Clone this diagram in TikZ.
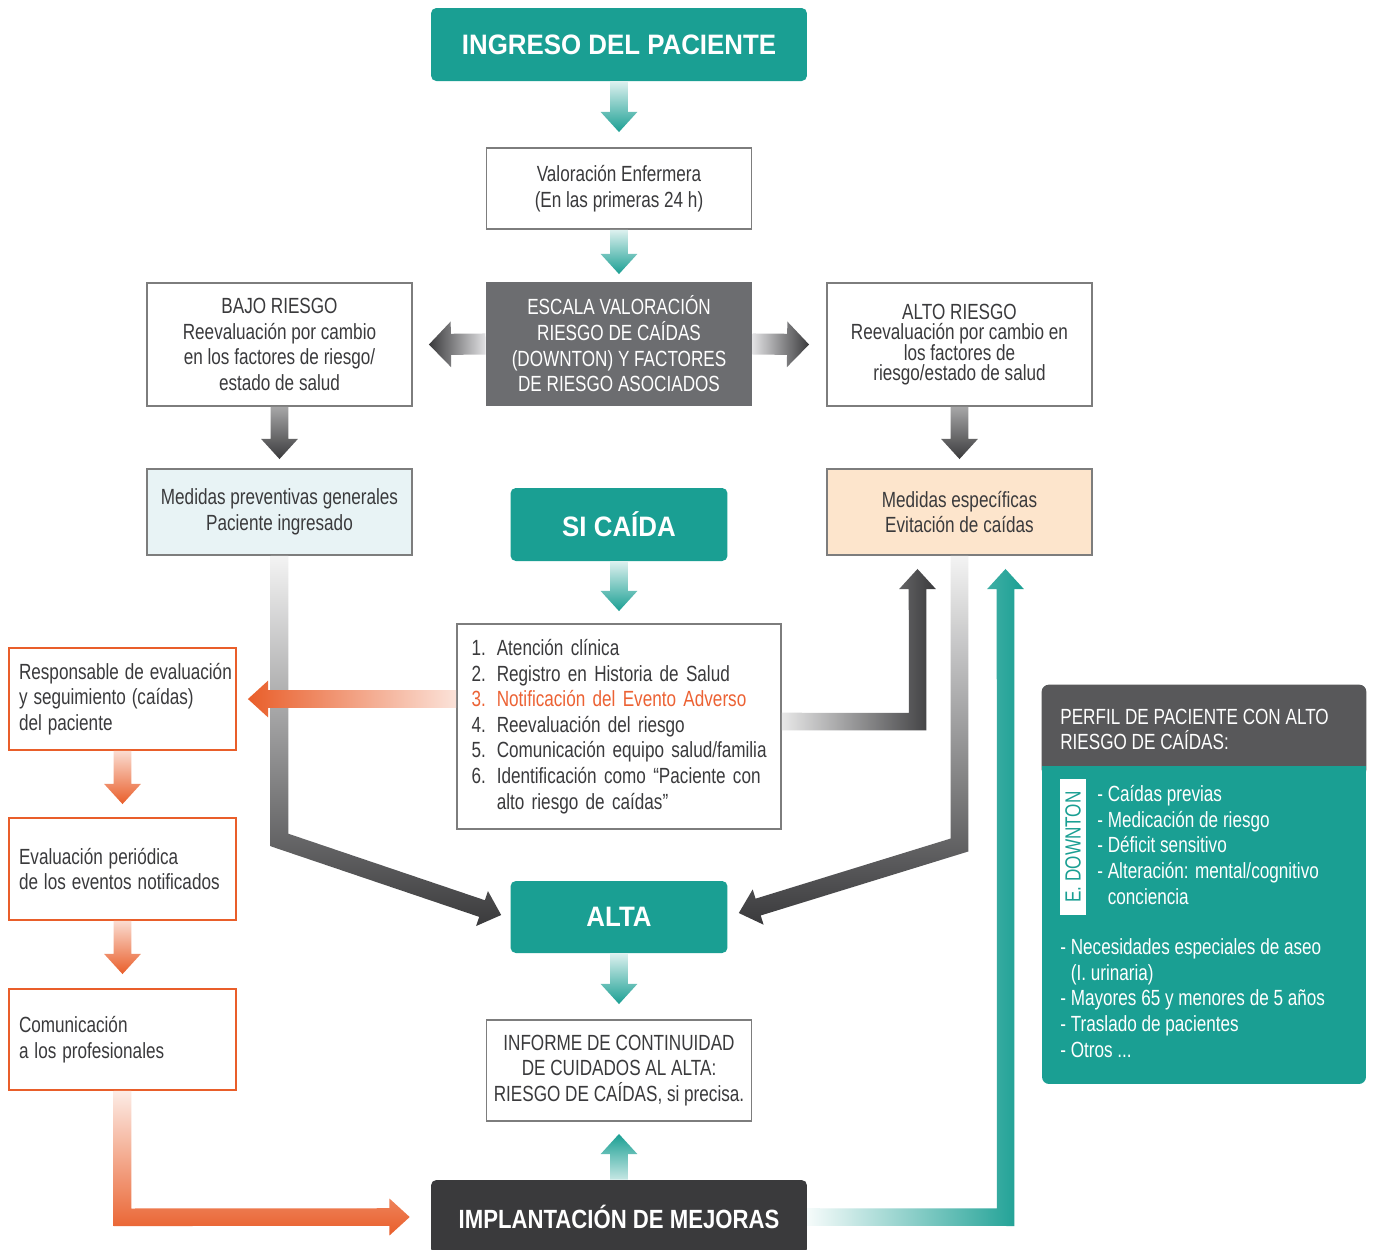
\documentclass[tikz,border=0pt]{standalone}
\usepackage{fontspec}
\setmainfont{Liberation Sans}[FakeStretch=0.78]
\newfontfamily\titulo{Liberation Sans}[FakeStretch=0.92]
\newfontfamily\tituloestrecho{Liberation Sans}[FakeStretch=0.84]
\usetikzlibrary{calc}

\definecolor{verde}{RGB}{26,159,147}
\definecolor{grisoscuro}{RGB}{58,58,60}
\definecolor{grisclaro}{RGB}{226,226,228}
\definecolor{grisescala}{RGB}{108,109,112}
\definecolor{cabecera}{RGB}{88,88,90}
\definecolor{mejoras}{RGB}{58,58,60}
\definecolor{naranja}{RGB}{233,94,42}
\definecolor{rojo}{RGB}{236,98,52}
\definecolor{celeste}{RGB}{232,243,245}
\definecolor{melocoton}{RGB}{253,229,204}
\definecolor{borde}{RGB}{125,125,125}
\definecolor{texto}{RGB}{58,58,60}

\newcommand{\cuerpo}{\fontsize{12.5}{14.6}\selectfont}
\newcommand{\anchoflecha}{5pt}
\newcommand{\cabezaflecha}{10.5pt}
\newcommand{\largoflecha}{11.5pt}

% flecha recta con degradado: opciones, origen, punta
\newcommand{\flecha}[3]{%
  \path ($(#3)!\largoflecha!(#2)$) coordinate (fb);
  \shade[#1] ($(#2)!\anchoflecha!90:(#3)$) -- ($(fb)!\anchoflecha!90:(#3)$)
    -- ($(fb)!\cabezaflecha!90:(#3)$) -- (#3) -- ($(fb)!\cabezaflecha!-90:(#3)$)
    -- ($(fb)!\anchoflecha!-90:(#3)$) -- ($(#2)!\anchoflecha!-90:(#3)$) -- cycle;}

% flecha con codo: opciones, origen, codo, punta
\newcommand{\flechacodo}[4]{%
  \path ($(#4)!\largoflecha!(#3)$) coordinate (fb);
  \path ($(#2)!\anchoflecha!90:(#3)$) coordinate (i1) ($(#3)!\anchoflecha!-90:(#2)$) coordinate (i2)
    ($(#3)!\anchoflecha!90:(#4)$) coordinate (i3) ($(fb)!\anchoflecha!90:(#4)$) coordinate (i4)
    ($(#2)!\anchoflecha!-90:(#3)$) coordinate (d1) ($(#3)!\anchoflecha!90:(#2)$) coordinate (d2)
    ($(#3)!\anchoflecha!-90:(#4)$) coordinate (d3) ($(fb)!\anchoflecha!-90:(#4)$) coordinate (d4);
  \shade[#1] (i1) -- (intersection of i1--i2 and i3--i4) -- (i4)
    -- ($(fb)!\cabezaflecha!90:(#4)$) -- (#4) -- ($(fb)!\cabezaflecha!-90:(#4)$)
    -- (d4) -- (intersection of d1--d2 and d3--d4) -- (d1) -- cycle;}

\tikzset{
  caja/.style={draw=borde, line width=1.1pt, fill=white, text=texto, align=center,
    inner sep=0pt, minimum width=5.3cm, font=\cuerpo},
  titulo/.style={fill=verde, rounded corners=3pt, text=white, inner sep=0pt,
    font={\titulo\fontsize{16}{19}\selectfont\bfseries}},
  cajanaranja/.style={draw=naranja, line width=1.1pt, fill=white, text=texto, align=left,
    inner xsep=0.2cm, inner ysep=0pt, text width=4.14cm, minimum height=2.04cm, font=\cuerpo,
    execute at begin node={\spaceskip=0.27em\relax}},
  blanco/.style={text=white, align=left, inner sep=0pt, font=\cuerpo},
}

\begin{document}
\begin{tikzpicture}[x=0.02cm, y=-0.02cm]
\fill[white] (0,0) rectangle (1373,1249);
\useasboundingbox (0,0) rectangle (1373,1249);

% columna central
\node[titulo, minimum width=7.52cm, minimum height=1.46cm] (ingreso) at (619,44.5) {INGRESO DEL PACIENTE};
\node[caja, minimum height=1.62cm] (valoracion) at (619,188.5) {Valoración Enfermera\\(En las primeras 24 h)};
\node[caja, draw=grisescala, fill=grisescala, text=white, minimum height=2.44cm] (escala) at (619,344)
  {ESCALA VALORACIÓN\\RIESGO DE CAÍDAS\\(DOWNTON) Y FACTORES\\DE RIESGO ASOCIADOS};
\node[caja, minimum height=2.46cm] (bajo) at (279.5,344.5)
  {BAJO RIESGO\\Reevaluación por cambio\\en los factores de riesgo/\\estado de salud};
\node[caja, minimum height=2.46cm, font=\fontsize{12.5}{11.7}\selectfont] (alto) at (959.5,344.5)
  {ALTO RIESGO\\Reevaluación por cambio en\\los factores de\\riesgo/estado de salud};
\node[caja, fill=celeste, minimum height=1.72cm] (prevent) at (279.5,512)
  {Medidas preventivas generales\\Paciente ingresado};
\node[caja, fill=melocoton, minimum height=1.72cm] (especif) at (959.5,512)
  {Medidas específicas\\Evitación de caídas};
\node[titulo, minimum width=4.34cm, minimum height=1.46cm] (sicaida) at (619,524.5) {SI CAÍDA};
\node[caja, align=left, text width=5.9cm, inner xsep=0.29cm, minimum width=6.48cm, minimum height=4.1cm] (lista) at (619,726.5)
  {1. Atención clínica\\2. Registro en Historia de Salud\\\textcolor{rojo}{3. Notificación del Evento Adverso}\\4. Reevaluación del riesgo\\\mbox{5. Comunicación equipo salud/familia}\\\mbox{6. Identificación como “Paciente con}\\\phantom{6. }alto riesgo de caídas”};
\node[titulo, minimum width=4.34cm, minimum height=1.44cm] (alta) at (619,917) {ALTA};
\node[caja, minimum height=2.02cm] (informe) at (619,1070.5)
  {INFORME DE CONTINUIDAD\\DE CUIDADOS AL ALTA:\\RIESGO DE CAÍDAS, si precisa.};
\node[titulo, fill=mejoras, font={\tituloestrecho\fontsize{15}{18}\selectfont\bfseries},
  minimum width=7.52cm, minimum height=1.48cm] (implant) at (619,1217) {IMPLANTACIÓN DE MEJORAS};

% columna izquierda
\node[cajanaranja] (resp) at (122.5,699) {\mbox{Responsable de evaluación}\\y seguimiento (caídas)\\del paciente};
\node[cajanaranja] (evalua) at (122.5,869) {Evaluación periódica\\\mbox{de los eventos notificados}};
\node[cajanaranja, minimum height=2.02cm] (comunic) at (122.5,1039.5) {Comunicación\\a los profesionales};

% perfil de paciente
\node[fill=verde, rounded corners=4pt, minimum width=6.48cm, minimum height=7.98cm, inner sep=0pt] (perfil) at (1204,884.5) {};
\fill[cabecera, rounded corners=4pt] (perfil.north west) rectangle ($(perfil.north east)+(0,92)$);
\fill[verde] ($(perfil.north west)+(0,81)$) rectangle ($(perfil.north east)+(0,96)$);
\node[blanco, anchor=west] (perfiltit) at (1060,729.5) {PERFIL DE PACIENTE CON ALTO\\RIESGO DE CAÍDAS:};
\node[fill=white, text=verde, rotate=90, minimum width=2.72cm, minimum height=0.52cm, inner sep=0pt, font=\cuerpo] (edownton) at (1073,847) {E. DOWNTON};
\node[blanco, anchor=west] (downton) at (1097,845)
  {- Caídas previas\\- Medicación de riesgo\\- Déficit sensitivo\\- Alteración: mental/cognitivo\\\phantom{- }conciencia};
\node[blanco, anchor=west] (otros) at (1060,998)
  {- Necesidades especiales de aseo\\\phantom{- }(I. urinaria)\\- Mayores 65 y menores de 5 años\\- Traslado de pacientes\\- Otros ...};

% puntas y codos
\coordinate (t1) at ($(valoracion.north)+(0,-15)$);
\coordinate (t2) at ($(escala.north)+(0,-8)$);
\coordinate (t3) at ($(bajo.east)+(16,0)$);
\coordinate (t4) at ($(alto.west)+(-17,0)$);
\coordinate (t5) at ($(prevent.north)+(0,-9)$);
\coordinate (t6) at ($(especif.north)+(0,-9)$);
\coordinate (t7) at ($(lista.north)+(0,-12)$);
\coordinate (s8) at (lista.west |- resp.east);
\coordinate (t8) at ($(resp.east)+(11,0)$);
\coordinate (t9) at ($(evalua.north)+(0,-13)$);
\coordinate (t10) at ($(comunic.north)+(0,-14)$);
\coordinate (t11) at ($(informe.north)+(0,-15)$);
\coordinate (t12) at ($(informe.south)+(0,12)$);
\coordinate (c13) at ($(prevent.south)+(0,284)$);
\coordinate (t13) at ($(alta.west)+(-9,-2)$);
\coordinate (c14) at ($(especif.south)+(0,289)$);
\coordinate (t14) at ($(alta.east)+(11,-4)$);
\coordinate (s15) at ($(lista.east)+(0,-5)$);
\coordinate (t15) at ($(especif.south)+(-42,13)$);
\coordinate (c15) at (s15 -| t15);
\coordinate (t16) at ($(especif.south)+(46,13)$);
\coordinate (c16) at (implant.east -| t16);
\coordinate (t17) at ($(implant.west)+(-21,0)$);
\coordinate (c17) at (comunic.south |- t17);

% flechas grises que llegan al alta
\flechacodo{top color=grisoscuro!6, bottom color=grisoscuro}{prevent.south}{c13}{t13}
\flechacodo{top color=grisoscuro!6, bottom color=grisoscuro}{especif.south}{c14}{t14}
\flechacodo{left color=grisoscuro!12, right color=grisoscuro}{s15}{c15}{t15}
\flechacodo{left color=verde!4, right color=verde}{implant.east}{c16}{t16}
\flechacodo{top color=naranja!12, middle color=naranja, bottom color=naranja}{comunic.south}{c17}{t17}

% flechas rectas
\flecha{top color=verde!15, bottom color=verde}{ingreso.south}{t1}
\flecha{top color=verde!15, bottom color=verde}{valoracion.south}{t2}
\begin{scope}
\renewcommand{\anchoflecha}{6pt}
\renewcommand{\cabezaflecha}{13pt}
\renewcommand{\largoflecha}{12.5pt}
\flecha{left color=grisoscuro, right color=grisclaro}{escala.west}{t3}
\flecha{left color=grisclaro, right color=grisoscuro}{escala.east}{t4}
\end{scope}
\flecha{top color=grisoscuro!45, bottom color=grisoscuro}{bajo.south}{t5}
\flecha{top color=grisoscuro!45, bottom color=grisoscuro}{alto.south}{t6}
\flecha{top color=verde!15, bottom color=verde}{sicaida.south}{t7}
\flecha{left color=naranja, right color=naranja!18}{s8}{t8}
\flecha{top color=naranja!22, bottom color=naranja}{resp.south}{t9}
\flecha{top color=naranja!22, bottom color=naranja}{evalua.south}{t10}
\flecha{top color=verde!15, bottom color=verde}{alta.south}{t11}
\flecha{top color=verde, bottom color=verde!25}{implant.north}{t12}
\end{tikzpicture}
\end{document}
